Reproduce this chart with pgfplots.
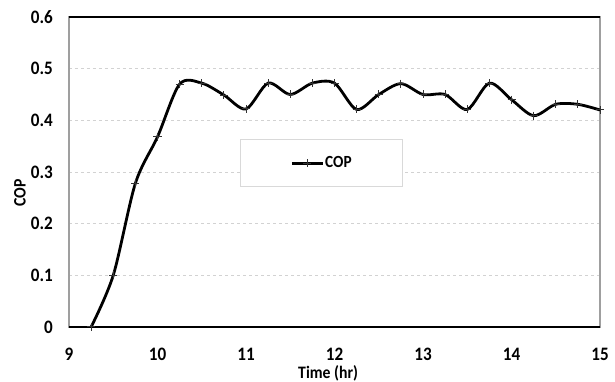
\documentclass[border=0pt]{standalone}
\usepackage{pgfplots}
\pgfplotsset{compat=1.18}
\usepackage{fontspec}
\setmainfont{Carlito}[FakeStretch=0.9]
\begin{document}
\begin{tikzpicture}
\path[use as bounding box] (-69pt,-55pt) rectangle (546pt,327pt);
\begin{axis}[
  at={(0pt,0pt)}, anchor=south west,
  scale only axis, width=531pt, height=310pt,
  xmin=9, xmax=15, ymin=0, ymax=0.6,
  xtick={9,10,11,12,13,14,15},
  ytick={0,0.1,0.2,0.3,0.4,0.5,0.6},
  yticklabels={0,0.1,0.2,0.3,0.4,0.5,0.6},
  major tick length=0pt,
  ymajorgrids,
  grid style={dashed, color=gray!35, line width=0.8pt},
  axis line style={draw=gray!75, line width=1.2pt},
  /pgf/number format/assume math mode=true,
  ticklabel style={font=\fontsize{19}{22}\selectfont\bfseries},
  xticklabel style={anchor=center, inner sep=0pt, yshift=-27pt},
  yticklabel style={anchor=east, inner sep=0pt, xshift=-16pt},
  xlabel={Time (hr)},
  ylabel={COP},
  label style={font=\fontsize{17.5}{19}\selectfont\bfseries},
  xlabel style={at={(axis description cs:0.488,-0.149)}, anchor=center, inner sep=0pt},
  ylabel style={at={(axis description cs:-0.0923,0.432)}, anchor=center, inner sep=0pt},
  legend style={at={(rel axis cs:0.322,0.605)}, anchor=north west,
    draw=gray!30, line width=0.8pt, fill=white,
    inner xsep=50pt, inner ysep=16pt,
    font=\fontsize{17}{19}\selectfont\bfseries,
    nodes={inner sep=1pt}},
  legend image code/.code={\draw[mark repeat=2,mark phase=2,#1] plot coordinates {(0pt,0pt) (15.5pt,0pt) (31pt,0pt)};},
  clip=false,
]
\addplot[black, line width=2.8pt, smooth, tension=0.5,
  mark=+, mark size=4pt, mark options={solid, draw=black!80, line width=1pt}]
  coordinates {
  (9.25,0) (9.5,0.1) (9.75,0.278) (10,0.368) (10.25,0.47) (10.5,0.472)
  (10.75,0.449) (11,0.422) (11.25,0.472) (11.5,0.45) (11.75,0.472) (12,0.472)
  (12.25,0.421) (12.5,0.45) (12.75,0.471) (13,0.45) (13.25,0.45) (13.5,0.421)
  (13.75,0.472) (14,0.44) (14.25,0.409) (14.5,0.431) (14.75,0.431) (15,0.42)
  };
\addlegendentry{COP}
\draw[black, line width=1.5pt] (rel axis cs:0,0) -- (rel axis cs:1,0);
\draw[black, line width=1.2pt] (rel axis cs:0,1) -- (rel axis cs:1,1);
\end{axis}
\end{tikzpicture}
\end{document}
